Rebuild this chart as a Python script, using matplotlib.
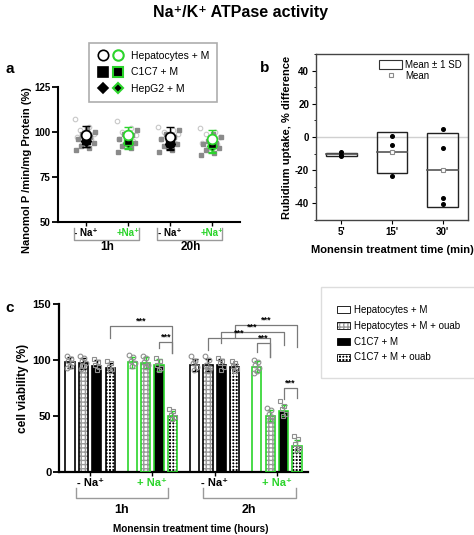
import numpy as np
import matplotlib
matplotlib.use('Agg')
import matplotlib.pyplot as plt
from matplotlib.lines import Line2D
from matplotlib.patches import Patch, Rectangle
from matplotlib.legend_handler import HandlerTuple
import matplotlib.transforms as mtransforms

plt.rcParams['font.family'] = ['Liberation Sans', 'DejaVu Sans']
plt.rcParams['font.weight'] = 'bold'
plt.rcParams['hatch.linewidth'] = 1.0
plt.rcParams['axes.unicode_minus'] = False

GREEN = '#2bd42b'
GRAY_LINE = '#9a9a9a'

# ---------------- data: panel a ----------------
a_categories = ['- Na⁺', '+Na⁺', '- Na⁺', '+Na⁺']
a_times = ['1h', '20h']
a_hep_mean = [98.5, 98.0, 97.0, 96.0]
a_hep_sd = [5.0, 5.0, 5.5, 5.0]
a_c1c7_mean = [95.5, 95.0, 94.5, 93.0]
a_c1c7_sd = [4.0, 4.0, 4.0, 4.0]
a_hepg2_mean = [95.0, 94.0, 93.5, 92.0]
a_hepg2_sd = [3.5, 3.5, 3.5, 3.5]
a_hep_points = [
    [107, 103, 101, 99, 98, 97, 96, 93],
    [106, 102, 100, 98, 97, 96, 95, 93],
    [103, 101, 100, 99, 97, 96, 94, 92],
    [102, 100, 99, 97, 96, 94, 93, 91],
]
a_other_points = [
    [102, 100, 99, 97, 96, 95, 94, 92, 91, 90],
    [101, 99, 98, 96, 95, 94, 92, 91, 89],
    [101, 99, 97, 96, 94, 93, 92, 90, 89],
    [99, 97, 95, 94, 93, 92, 91, 90, 88, 87],
]
a_legend = ['Hepatocytes + M', 'C1C7 + M', 'HepG2 + M']

# ---------------- data: panel b ----------------
b_times = ["5'", "15'", "30'"]
b_points = [[-9.3, -10.6, -11.6], [0.4, -4.8, -23.2], [5.0, -6.8, -37.0, -40.6]]

# ---------------- data: panel c ----------------
c_groups = ['- Na⁺', '+ Na⁺', '- Na⁺', '+ Na⁺']
c_times = ['1h', '2h']
c_series = ['Hepatocytes + M', 'Hepatocytes + M + ouab', 'C1C7 + M', 'C1C7 + M + ouab']
c_hep = [98.0, 98.0, 95.6, 94.0]
c_hep_ouab = [97.0, 97.5, 95.6, 50.2]
c_c1c7 = [95.0, 95.6, 95.6, 54.7]
c_c1c7_ouab = [93.0, 50.0, 93.5, 23.0]
c_hep_sd = [5, 5, 5, 5]
c_hep_ouab_sd = [5, 5, 5, 5]
c_c1c7_sd = [5, 5, 5, 5]
c_c1c7_ouab_sd = [4, 4, 3, 5]
c_hep_pts = [[104, 101, 99, 97, 95, 93], [105, 103, 99, 97, 95], [104, 99, 97, 94, 91], [100, 98, 96, 93, 90, 88]]
c_hep_ouab_pts = [[104, 102, 99, 97, 95, 92], [104, 102, 98, 96, 94], [104, 100, 96, 93, 90], [57, 55, 52, 49, 46]]
c_c1c7_pts = [[101, 98, 96, 94, 91], [102, 99, 96, 93, 91], [102, 99, 97, 94, 91], [63, 59, 56, 52, 50]]
c_c1c7_ouab_pts = [[99, 97, 94, 92, 90], [56, 54, 51, 49, 47], [99, 97, 95, 92, 90], [32, 29, 25, 21, 19]]
# significance comparisons: (group1, series1, group2, series2)
c_sig = [(0, 3, 1, 3), (1, 2, 1, 3), (2, 3, 3, 3), (2, 2, 3, 2), (2, 1, 3, 1), (3, 0, 3, 1), (3, 2, 3, 3)]
c_sig_y = [130.5, 116.5, 131.5, 125.5, 119.5, 115, 75]
c_sig_drop = [(119.5, 106), (110.5, 106), (121, 112), (115, 113.5), (109, 103), (107.5, 103), (65, 66)]

W, H = 474, 535
fig = plt.figure(figsize=(W / 100, H / 100), dpi=100)


def rect(l, t, r, b):
    return [l / W, 1 - b / H, (r - l) / W, (b - t) / H]


def spread(n, width):
    return ((np.arange(n) * 0.618) % 1 - 0.5) * width


fig.text(240 / W, 1 - 13 / H, 'Na⁺/K⁺ ATPase activity', ha='center', va='center', fontsize=11.5, weight='bold')

# ================= panel a =================
ax = fig.add_axes(rect(58, 87, 240, 221.7))
xa = np.arange(1, len(a_categories) + 1)
for i in range(len(a_categories)):
    col = 'black' if i % 2 == 0 else GREEN
    ho = spread(len(a_hep_points[i]), 0.55)
    ax.plot(xa[i] + ho, a_hep_points[i], 'o', ms=3.3, mfc='none', mec='#c8c8c8', mew=0.8, zorder=1)
    so = spread(len(a_other_points[i]), 0.5)[::-1]
    ax.plot(xa[i] + so, a_other_points[i], 's', ms=2.2, color='#8a8a8a', zorder=1)
    ax.errorbar(xa[i], a_hep_mean[i], yerr=a_hep_sd[i], fmt='none', ecolor=col, capsize=3, elinewidth=1, capthick=1, zorder=3)
    ax.errorbar(xa[i], a_c1c7_mean[i], yerr=a_c1c7_sd[i], fmt='none', ecolor=col, capsize=3, elinewidth=1, capthick=1, zorder=3)
    ax.errorbar(xa[i], a_hepg2_mean[i], yerr=a_hepg2_sd[i], fmt='none', ecolor=col, capsize=3, elinewidth=1, capthick=1, zorder=3)
    ax.plot(xa[i], a_hepg2_mean[i], 'D', ms=5, mfc='black', mec=col, mew=1, zorder=4)
    ax.plot(xa[i], a_c1c7_mean[i], 's', ms=5.5, mfc='black', mec=col, mew=1, zorder=5)
    ax.plot(xa[i], a_hep_mean[i], 'o', ms=7, mfc='white', mec=col, mew=1.3, zorder=6)
ax.set_xlim(0.33, 4.67)
ax.set_ylim(50, 125)
ax.set_yticks([50, 75, 100, 125])
ax.set_xticks(xa)
ax.set_xticklabels(a_categories)
for i, t in enumerate(ax.get_xticklabels()):
    t.set_color('black' if i % 2 == 0 else GREEN)
ax.tick_params(axis='both', direction='out', length=4, width=1.3, labelsize=7, pad=1.5)
ax.tick_params(axis='x', length=3, width=1)
for s in ['top', 'right']:
    ax.spines[s].set_visible(False)
for s in ['left', 'bottom']:
    ax.spines[s].set_linewidth(1.5)
ax.set_ylabel('Nanomol P /min/mg Protein (%)', fontsize=8, weight='bold', labelpad=3)
ax.yaxis.set_label_coords(-0.145, 0.38)
tr = mtransforms.blended_transform_factory(ax.transData, ax.transAxes)
for c, lab in zip([1.5, 3.5], a_times):
    ax.plot([c - 0.8, c - 0.8, c + 0.75, c + 0.75], [-0.047, -0.136, -0.136, -0.047], transform=tr,
            color=GRAY_LINE, lw=1, clip_on=False)
    ax.text(c, -0.19, lab, transform=tr, ha='center', va='center', fontsize=8.5, weight='bold')

hand = [
    (Line2D([], [], ls='none', marker='o', ms=7.5, mfc='white', mec='black', mew=1.2),
     Line2D([], [], ls='none', marker='o', ms=7.5, mfc='white', mec=GREEN, mew=1.5)),
    (Line2D([], [], ls='none', marker='s', ms=7, mfc='black', mec='black', mew=1.2),
     Line2D([], [], ls='none', marker='s', ms=7, mfc='black', mec=GREEN, mew=1.5)),
    (Line2D([], [], ls='none', marker='D', ms=5, mfc='black', mec='black', mew=1.2),
     Line2D([], [], ls='none', marker='D', ms=5, mfc='black', mec=GREEN, mew=1.5)),
]
leg = fig.legend(hand, a_legend, handler_map={tuple: HandlerTuple(ndivide=None, pad=0.4)},
                 loc='upper left', bbox_to_anchor=(89 / W, 1 - 43 / H), borderaxespad=0,
                 prop={'size': 7.5, 'weight': 'normal'}, handlelength=2.6, handletextpad=0.7,
                 labelspacing=0.62, borderpad=0.75, fancybox=False, edgecolor='#999999')
leg.get_frame().set_linewidth(1.2)

fig.text(5 / W, 1 - 69 / H, 'a', fontsize=11, weight='bold', va='center')

# ================= panel b =================
bx = fig.add_axes(rect(316, 54, 468, 220))
bx.axhline(0, color='#d0d0d0', lw=1, zorder=0)
for i, pts in enumerate(b_points):
    x = i + 1
    m = np.mean(pts)
    s = np.std(pts, ddof=1)
    bx.add_patch(Rectangle((x - 0.3, m - s), 0.6, 2 * s, fill=False, ec='#222222', lw=1, zorder=2))
    bx.plot([x - 0.3, x + 0.3], [m, m], color='#555555', lw=1.2, zorder=3)
    bx.plot(x, m, 's', ms=3.5, mfc='white', mec='#8a8a8a', mew=0.8, zorder=4)
    bx.plot([x] * len(pts), pts, 'o', ms=2.6, color='black', zorder=5)
bx.set_xlim(0.5, 3.5)
bx.set_ylim(-50, 50)
bx.set_yticks([-40, -20, 0, 20, 40])
bx.set_yticks(np.arange(-50, 51, 10), minor=True)
bx.set_xticks([1, 2, 3])
bx.set_xticklabels(b_times)
bx.tick_params(axis='both', direction='out', length=3, width=0.8, labelsize=7, pad=2)
bx.tick_params(which='minor', length=1.8, width=0.6)
for s in bx.spines.values():
    s.set_linewidth(1)
    s.set_color('#444444')
bx.set_ylabel('Rubidium uptake, % difference', fontsize=8, weight='bold', labelpad=2)
bx.set_xlabel('Monensin treatment time (min)', fontsize=8, weight='bold', labelpad=6)
bx.legend([Patch(fc='white', ec='#333333', lw=0.8),
           Line2D([], [], ls='none', marker='s', ms=3.5, mfc='white', mec='#8a8a8a', mew=0.8)],
          ['Mean ± 1 SD', 'Mean'], loc='upper right', frameon=False,
          prop={'size': 7, 'weight': 'normal'}, handlelength=2.4, handleheight=1.1, handletextpad=0.3,
          borderaxespad=0.2, labelspacing=0.15)
fig.text(260 / W, 1 - 68 / H, 'b', fontsize=11, weight='bold', va='center')

# ================= panel c =================
cx = fig.add_axes(rect(59, 304.3, 308, 471.7))
means = [c_hep, c_hep_ouab, c_c1c7, c_c1c7_ouab]
sds = [c_hep_sd, c_hep_ouab_sd, c_c1c7_sd, c_c1c7_ouab_sd]
pts = [c_hep_pts, c_hep_ouab_pts, c_c1c7_pts, c_c1c7_ouab_pts]
step, bw = 0.215, 0.15
face = ['white', 'white', 'black', 'black']
hatch = [None, '++++', None, '+++++']
hcol = [None, '#9a9a9a', None, 'white']
mk = ['o', 'o', 's', 's']


def bx_pos(g, s):
    return g + (s - 1.5) * step


for g in range(len(c_groups)):
    col = 'black' if g % 2 == 0 else GREEN
    for s in range(len(c_series)):
        x = bx_pos(g, s)
        if hatch[s]:
            cx.bar(x, means[s][g], width=bw, color=face[s], edgecolor=hcol[s], hatch=hatch[s], lw=0, zorder=2)
            cx.bar(x, means[s][g], width=bw, fill=False, edgecolor=col, lw=1.2, zorder=3)
        else:
            cx.bar(x, means[s][g], width=bw, color=face[s], edgecolor=col, lw=1.2, zorder=2)
        cx.errorbar(x, means[s][g], yerr=sds[s][g], fmt='none', ecolor=col, capsize=2.5, elinewidth=1,
                    capthick=1, zorder=4)
        p = pts[s][g]
        cx.plot(x + spread(len(p), 0.1), p, mk[s], ms=3.4, mfc='none', mec='#8f8f8f', mew=0.8, zorder=5)

for (g1, s1, g2, s2), y, (yl, yr) in zip(c_sig, c_sig_y, c_sig_drop):
    x1, x2 = bx_pos(g1, s1), bx_pos(g2, s2)
    cx.plot([x1, x1, x2, x2], [yl, y, y, yr], color='#7a7a7a', lw=0.9, zorder=6, clip_on=False)
    cx.text((x1 + x2) / 2, y + 0.5, '***', ha='center', va='bottom', fontsize=6.5, weight='bold', zorder=7)

cx.set_xlim(-0.5, 3.5)
cx.set_ylim(0, 150)
cx.set_yticks([0, 50, 100, 150])
cx.set_xticks(range(len(c_groups)))
cx.set_xticklabels(c_groups)
for i, t in enumerate(cx.get_xticklabels()):
    t.set_color('black' if i % 2 == 0 else GREEN)
cx.tick_params(axis='both', direction='out', length=4, width=1.3, labelsize=8, pad=1.5)
cx.tick_params(axis='x', length=3, width=1)
for s in ['top', 'right']:
    cx.spines[s].set_visible(False)
for s in ['left', 'bottom']:
    cx.spines[s].set_linewidth(1.6)
cx.set_ylabel('cell viability (%)', fontsize=8.5, weight='bold', labelpad=3)
tr = mtransforms.blended_transform_factory(cx.transData, cx.transAxes)
for c, lab in zip([0.5, 2.55], c_times):
    cx.plot([c - 0.73, c - 0.73, c + 0.75, c + 0.75], [-0.097, -0.157, -0.157, -0.097], transform=tr,
            color=GRAY_LINE, lw=1, clip_on=False)
    cx.text(c, -0.23, lab, transform=tr, ha='center', va='center', fontsize=9, weight='bold')
cx.text(0.53, -0.34, 'Monensin treatment time (hours)', transform=cx.transAxes, ha='center', va='center',
        fontsize=7.2, weight='bold')
fig.text(5 / W, 1 - 308 / H, 'c', fontsize=11, weight='bold', va='center')

lh = []
for s in range(len(c_series)):
    if hatch[s]:
        ph = (Patch(fc=face[s], ec=hcol[s], hatch=hatch[s], lw=0),
              Patch(fill=False, ec='black', lw=0.6))
    else:
        ph = (Patch(fc=face[s], ec='black', lw=0.6),)
    lh.append(ph)
fig.legend(lh, c_series, handler_map={tuple: HandlerTuple(ndivide=1)},
           loc='upper left', bbox_to_anchor=(337 / W, 1 - 305 / H), borderaxespad=0,
           borderpad=0, frameon=False, prop={'size': 7, 'weight': 'normal'}, handlelength=1.35,
           handleheight=0.75, handletextpad=0.35, labelspacing=0.6)
fig.patches.append(Rectangle((321 / W, 1 - 378 / H), (490 - 321) / W, (378 - 287) / H,
                             transform=fig.transFigure, fill=False, ec='#dddddd', lw=1))

fig.savefig('out.png', dpi=100)
